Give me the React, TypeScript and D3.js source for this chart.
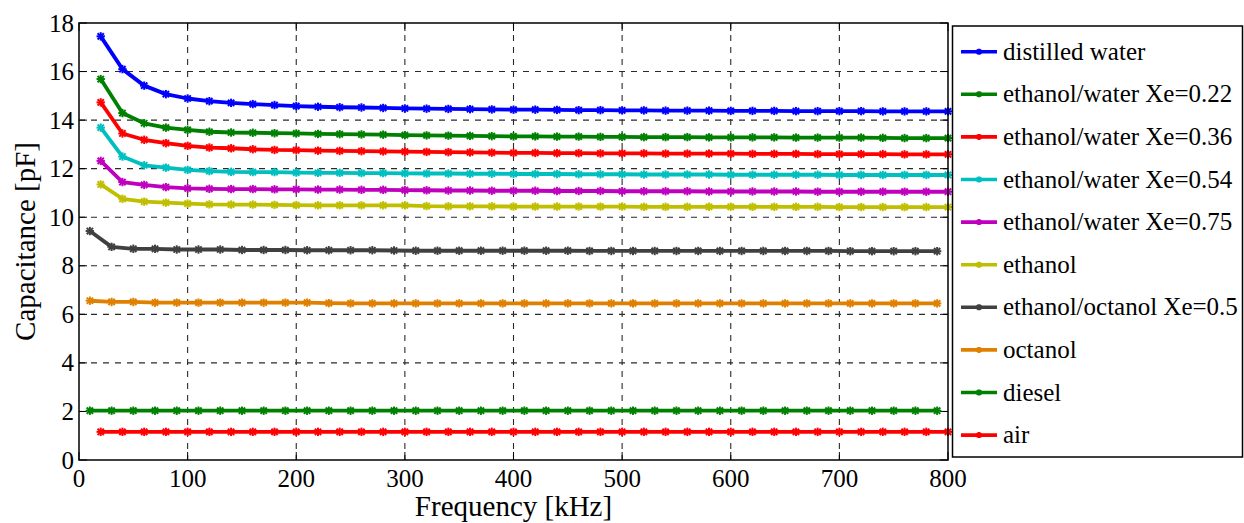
import React, { useRef, useEffect } from 'react'
import * as d3 from 'd3'

// frequency grids (kHz)
const freqEven = [
  20, 40, 60, 80, 100, 120, 140, 160, 180, 200, 220, 240, 260, 280, 300, 320, 340, 360, 380, 400,
  420, 440, 460, 480, 500, 520, 540, 560, 580, 600, 620, 640, 660, 680, 700, 720, 740, 760, 780, 800,
]
const freqOdd = [
  10, 30, 50, 70, 90, 110, 130, 150, 170, 190, 210, 230, 250, 270, 290, 310, 330, 350, 370, 390,
  410, 430, 450, 470, 490, 510, 530, 550, 570, 590, 610, 630, 650, 670, 690, 710, 730, 750, 770, 790,
]

const distilledWater = [
  17.45, 16.1, 15.42, 15.07, 14.89, 14.78, 14.71, 14.66, 14.62, 14.58, 14.55, 14.53, 14.52, 14.5, 14.48, 14.47, 14.46, 14.45, 14.44, 14.43,
  14.43, 14.42, 14.41, 14.41, 14.4, 14.4, 14.39, 14.39, 14.39, 14.38, 14.38, 14.38, 14.37, 14.37, 14.37, 14.37, 14.36, 14.36, 14.36, 14.36,
]
const water022 = [
  15.69, 14.29, 13.87, 13.69, 13.6, 13.52, 13.49, 13.48, 13.46, 13.45, 13.43, 13.42, 13.41, 13.4, 13.38, 13.37, 13.36, 13.35, 13.34, 13.33,
  13.33, 13.32, 13.32, 13.31, 13.31, 13.3, 13.3, 13.3, 13.29, 13.29, 13.29, 13.29, 13.28, 13.28, 13.28, 13.28, 13.27, 13.26, 13.26, 13.26,
]
const water036 = [
  14.73, 13.45, 13.19, 13.05, 12.94, 12.87, 12.84, 12.8, 12.77, 12.76, 12.74, 12.73, 12.72, 12.71, 12.7, 12.69, 12.68, 12.67, 12.66, 12.65,
  12.65, 12.64, 12.64, 12.63, 12.63, 12.63, 12.62, 12.62, 12.62, 12.62, 12.61, 12.61, 12.61, 12.6, 12.6, 12.6, 12.6, 12.59, 12.59, 12.59,
]
const water054 = [
  13.69, 12.5, 12.14, 12.04, 11.95, 11.9, 11.87, 11.86, 11.86, 11.84, 11.83, 11.83, 11.82, 11.82, 11.81, 11.8, 11.8, 11.79, 11.79, 11.78,
  11.78, 11.78, 11.77, 11.77, 11.77, 11.76, 11.76, 11.76, 11.76, 11.75, 11.75, 11.75, 11.75, 11.75, 11.74, 11.74, 11.74, 11.74, 11.74, 11.74,
]
const water075 = [
  12.32, 11.45, 11.33, 11.24, 11.19, 11.17, 11.16, 11.16, 11.15, 11.15, 11.14, 11.14, 11.13, 11.13, 11.12, 11.11, 11.1, 11.1, 11.09, 11.09,
  11.09, 11.08, 11.08, 11.08, 11.07, 11.07, 11.07, 11.07, 11.06, 11.06, 11.06, 11.06, 11.06, 11.05, 11.05, 11.05, 11.05, 11.05, 11.05, 11.05,
]
const ethanol = [
  11.35, 10.76, 10.64, 10.6, 10.56, 10.53, 10.52, 10.52, 10.51, 10.5, 10.49, 10.49, 10.49, 10.49, 10.49, 10.46, 10.45, 10.45, 10.45, 10.44,
  10.44, 10.44, 10.44, 10.44, 10.44, 10.43, 10.43, 10.43, 10.43, 10.43, 10.43, 10.43, 10.43, 10.43, 10.42, 10.42, 10.42, 10.42, 10.42, 10.42,
]
const ethOct = [
  9.43, 8.78, 8.7, 8.7, 8.67, 8.67, 8.67, 8.65, 8.65, 8.65, 8.64, 8.64, 8.64, 8.64, 8.63, 8.62, 8.62, 8.62, 8.62, 8.62,
  8.62, 8.62, 8.62, 8.61, 8.61, 8.61, 8.61, 8.61, 8.61, 8.61, 8.61, 8.61, 8.61, 8.61, 8.61, 8.6, 8.6, 8.6, 8.6, 8.6,
]
const octanol = [
  6.56, 6.51, 6.51, 6.48, 6.48, 6.48, 6.48, 6.48, 6.48, 6.48, 6.48, 6.46, 6.45, 6.45, 6.45, 6.45, 6.45, 6.45, 6.45, 6.45,
  6.45, 6.45, 6.45, 6.45, 6.45, 6.45, 6.45, 6.45, 6.45, 6.45, 6.45, 6.45, 6.45, 6.45, 6.45, 6.45, 6.45, 6.45, 6.45, 6.45,
]
const diesel = [
  2.03, 2.03, 2.03, 2.03, 2.03, 2.03, 2.03, 2.03, 2.03, 2.03, 2.03, 2.03, 2.03, 2.03, 2.03, 2.03, 2.03, 2.03, 2.03, 2.03,
  2.03, 2.03, 2.03, 2.03, 2.03, 2.03, 2.03, 2.03, 2.03, 2.03, 2.03, 2.03, 2.03, 2.03, 2.03, 2.03, 2.03, 2.03, 2.03, 2.03,
]
const air = [
  1.16, 1.16, 1.16, 1.16, 1.16, 1.16, 1.16, 1.16, 1.16, 1.16, 1.16, 1.16, 1.16, 1.16, 1.16, 1.16, 1.16, 1.16, 1.16, 1.16,
  1.16, 1.16, 1.16, 1.16, 1.16, 1.16, 1.16, 1.16, 1.16, 1.16, 1.16, 1.16, 1.16, 1.16, 1.16, 1.16, 1.16, 1.16, 1.16, 1.16,
]

const seriesNames = [
  'distilled water',
  'ethanol/water Xe=0.22',
  'ethanol/water Xe=0.36',
  'ethanol/water Xe=0.54',
  'ethanol/water Xe=0.75',
  'ethanol',
  'ethanol/octanol Xe=0.5',
  'octanol',
  'diesel',
  'air',
]
const seriesValues = [distilledWater, water022, water036, water054, water075, ethanol, ethOct, octanol, diesel, air]
const seriesFreqs = [freqEven, freqEven, freqEven, freqEven, freqEven, freqEven, freqOdd, freqOdd, freqOdd, freqEven]
const seriesColors = ['#0000ff', '#008000', '#ff0000', '#00bfbf', '#bf00bf', '#bfbf00', '#404040', '#e08000', '#008000', '#ff0000']

const xTicks = [0, 100, 200, 300, 400, 500, 600, 700, 800]
const yTicks = [0, 2, 4, 6, 8, 10, 12, 14, 16, 18]

const FONT = "'Liberation Serif', 'Times New Roman', serif"

export default function App() {
  const ref = useRef<SVGSVGElement>(null)

  useEffect(() => {
    const svg = d3.select(ref.current)
    svg.selectAll('*').remove()

    const left = 79
    const right = 948
    const top = 23
    const bottom = 460

    const x = d3.scaleLinear().domain([0, 800]).range([left, right])
    const y = d3.scaleLinear().domain([0, 18]).range([bottom, top])

    svg.append('rect').attr('x', left).attr('y', top).attr('width', right - left).attr('height', bottom - top).attr('fill', '#fff')

    // dashed grid
    const grid = svg.append('g').attr('stroke', '#2a2a2a').attr('stroke-width', 1.1).attr('stroke-dasharray', '6,6')
    xTicks.slice(1, -1).forEach((t) => {
      grid.append('line').attr('x1', x(t)).attr('x2', x(t)).attr('y1', top).attr('y2', bottom)
    })
    yTicks.slice(1, -1).forEach((t) => {
      grid.append('line').attr('x1', left).attr('x2', right).attr('y1', y(t)).attr('y2', y(t))
    })

    // inner ticks on all four sides
    const ticks = svg.append('g').attr('stroke', '#000').attr('stroke-width', 1)
    xTicks.forEach((t) => {
      ticks.append('line').attr('x1', x(t)).attr('x2', x(t)).attr('y1', bottom).attr('y2', bottom - 8)
      ticks.append('line').attr('x1', x(t)).attr('x2', x(t)).attr('y1', top).attr('y2', top + 8)
    })
    yTicks.forEach((t) => {
      ticks.append('line').attr('x1', left).attr('x2', left + 8).attr('y1', y(t)).attr('y2', y(t))
      ticks.append('line').attr('x1', right).attr('x2', right - 8).attr('y1', y(t)).attr('y2', y(t))
    })

    const line = d3
      .line<[number, number]>()
      .x((d) => x(d[0]))
      .y((d) => y(d[1]))

    const star = (g: any, cx: number, cy: number, color: string, r: number) => {
      const s = g.append('g').attr('stroke', color).attr('stroke-width', 2)
      s.append('line').attr('x1', cx - r).attr('x2', cx + r).attr('y1', cy).attr('y2', cy)
      s.append('line').attr('x1', cx).attr('x2', cx).attr('y1', cy - r).attr('y2', cy + r)
      s.append('line').attr('x1', cx - r * 0.75).attr('x2', cx + r * 0.75).attr('y1', cy - r * 0.75).attr('y2', cy + r * 0.75)
      s.append('line').attr('x1', cx - r * 0.75).attr('x2', cx + r * 0.75).attr('y1', cy + r * 0.75).attr('y2', cy - r * 0.75)
    }

    const plot = svg.append('g')
    seriesValues.forEach((vals, i) => {
      const pts: [number, number][] = vals.map((v, j) => [seriesFreqs[i][j], v])
      plot
        .append('path')
        .datum(pts)
        .attr('fill', 'none')
        .attr('stroke', seriesColors[i])
        .attr('stroke-width', 3.8)
        .attr('stroke-linejoin', 'round')
        .attr('d', line)
      pts.forEach((p) => star(plot, x(p[0]), y(p[1]), seriesColors[i], 4.2))
    })

    // axes box
    svg
      .append('rect')
      .attr('x', left)
      .attr('y', top)
      .attr('width', right - left)
      .attr('height', bottom - top)
      .attr('fill', 'none')
      .attr('stroke', '#000')
      .attr('stroke-width', 1.5)

    // tick labels
    const labels = svg.append('g').style('font-family', FONT).attr('font-size', 25).attr('fill', '#000')
    xTicks.forEach((t) => {
      labels.append('text').attr('x', x(t)).attr('y', 487).attr('text-anchor', 'middle').text(t)
    })
    yTicks.forEach((t) => {
      labels
        .append('text')
        .attr('x', 74)
        .attr('y', y(t))
        .attr('dy', '0.34em')
        .attr('text-anchor', 'end')
        .text(t)
    })

    svg
      .append('text')
      .attr('x', x(400))
      .attr('y', 516)
      .attr('text-anchor', 'middle')
      .style('font-family', FONT)
      .attr('font-size', 29)
      .text('Frequency [kHz]')

    svg
      .append('text')
      .attr('transform', `translate(35,${y(9)}) rotate(-90)`)
      .attr('text-anchor', 'middle')
      .style('font-family', FONT)
      .attr('font-size', 29)
      .text('Capacitance [pF]')

    // legend
    const lg = svg.append('g')
    lg.append('rect')
      .attr('x', 952.5)
      .attr('y', 26)
      .attr('width', 290)
      .attr('height', 431)
      .attr('fill', '#fff')
      .attr('stroke', '#000')
      .attr('stroke-width', 1.5)
    seriesNames.forEach((name, i) => {
      const cy = 51.7 + i * 42.6
      lg.append('line')
        .attr('x1', 961)
        .attr('x2', 997)
        .attr('y1', cy)
        .attr('y2', cy)
        .attr('stroke', seriesColors[i])
        .attr('stroke-width', 3.6)
      star(lg, 979, cy, seriesColors[i], 3)
      lg.append('text')
        .attr('x', 1003)
        .attr('y', cy)
        .attr('dy', '0.32em')
        .style('font-family', FONT)
        .attr('font-size', 25)
        .text(name)
    })
  }, [])

  return (
    <svg
      ref={ref}
      width={1244}
      height={523}
      style={{ position: 'absolute', left: 0, top: 0, background: '#fff' }}
    ></svg>
  )
}
